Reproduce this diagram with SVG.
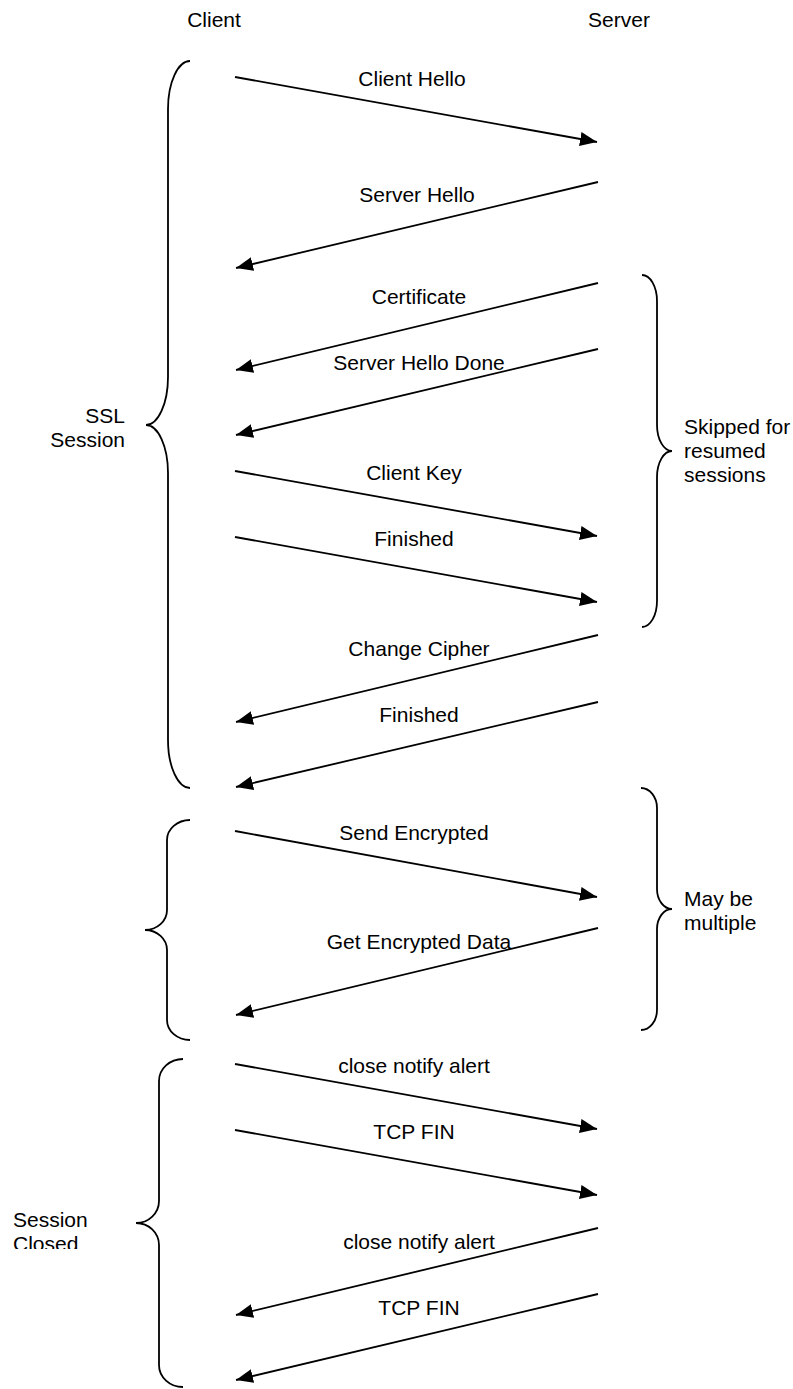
<svg xmlns="http://www.w3.org/2000/svg" width="793" height="1389" viewBox="0 0 793 1389">
  <style>
    text { font-family: "Liberation Sans", Arial, sans-serif; font-size: 21px; fill: #000; }
    .lbl { text-anchor: middle; }
    .msg { stroke: #000; stroke-width: 1.8; fill: none; marker-end: url(#ah); }
    .brace { stroke: #000; stroke-width: 1.8; fill: none; }
  </style>
  <defs>
    <marker id="ah" markerUnits="userSpaceOnUse" markerWidth="18" markerHeight="14" refX="17" refY="7" orient="auto">
      <path d="M0,0 L17,7 L0,14 z" fill="#000"/>
    </marker>
    <clipPath id="clipClosed">
      <rect x="0" y="1190" width="135" height="59"/>
    </clipPath>
  </defs>
  <rect x="0" y="0" width="793" height="1389" fill="#fff"/>

  <g id="client"><text x="214" y="27" class="lbl">Client</text></g>
  <g id="server"><text x="619" y="27" class="lbl">Server</text></g>

  <g id="ssl-session-brace">
    <path class="brace" d="M190,61 A22,48 0 0 0 168,109 L168,377 A22,48 0 0 1 146,425 A22,48 0 0 1 168,473 L168,740 A22,48 0 0 0 190,788"/>
    <text x="125" y="423" text-anchor="end">SSL</text>
    <text x="125" y="447" text-anchor="end">Session</text>
  </g>

  <g id="skipped-brace">
    <path class="brace" d="M642,275 A15,26 0 0 1 657,301 L657,425 A15,26 0 0 0 672,451 A15,26 0 0 0 657,477 L657,601 A15,26 0 0 1 642,627"/>
    <text x="684" y="434">Skipped for</text>
    <text x="684" y="458">resumed</text>
    <text x="684" y="482">sessions</text>
  </g>

  <g id="data-brace">
    <path class="brace" d="M190,820 A23,20 0 0 0 167,840 L167,910 A22,20 0 0 1 145,930 A22,20 0 0 1 167,950 L167,1020 A23,20 0 0 0 190,1040"/>
  </g>

  <g id="multiple-brace">
    <path class="brace" d="M641,788 A16,20 0 0 1 657,808 L657,889 A15,20 0 0 0 672,909 A15,20 0 0 0 657,929 L657,1010 A16,20 0 0 1 641,1030"/>
    <text x="684" y="906">May be</text>
    <text x="684" y="930">multiple</text>
  </g>

  <g id="closed-brace">
    <path class="brace" d="M183,1059 A24,22 0 0 0 159,1081 L159,1201 A23,22 0 0 1 136,1223 A23,22 0 0 1 159,1245 L159,1365 A24,22 0 0 0 183,1387"/>
    <g clip-path="url(#clipClosed)">
      <text x="13" y="1227">Session</text>
      <text x="13" y="1251">Closed</text>
    </g>
  </g>

  <g id="connectors">
    <line class="msg" x1="235" y1="77" x2="597" y2="142"/>
    <line class="msg" x1="598" y1="182" x2="236" y2="268"/>
    <line class="msg" x1="598" y1="283" x2="236" y2="370"/>
    <line class="msg" x1="598" y1="349" x2="236" y2="435"/>
    <line class="msg" x1="235" y1="471" x2="597" y2="536"/>
    <line class="msg" x1="235" y1="537" x2="597" y2="602"/>
    <line class="msg" x1="598" y1="635" x2="236" y2="722"/>
    <line class="msg" x1="598" y1="702" x2="236" y2="787"/>
    <line class="msg" x1="235" y1="831" x2="597" y2="897"/>
    <line class="msg" x1="598" y1="928" x2="236" y2="1015"/>
    <line class="msg" x1="235" y1="1064" x2="597" y2="1129"/>
    <line class="msg" x1="235" y1="1130" x2="597" y2="1195"/>
    <line class="msg" x1="598" y1="1228" x2="236" y2="1315"/>
    <line class="msg" x1="598" y1="1294" x2="236" y2="1380"/>
  </g>

  <g id="labels">
    <text class="lbl" x="412" y="86">Client Hello</text>
    <text class="lbl" x="417" y="202">Server Hello</text>
    <text class="lbl" x="419" y="304">Certificate</text>
    <text class="lbl" x="419" y="370">Server Hello Done</text>
    <text class="lbl" x="414" y="480">Client Key</text>
    <text class="lbl" x="414" y="546">Finished</text>
    <text class="lbl" x="419" y="656">Change Cipher</text>
    <text class="lbl" x="419" y="722">Finished</text>
    <text class="lbl" x="414" y="840">Send Encrypted</text>
    <text class="lbl" x="419" y="949">Get Encrypted Data</text>
    <text class="lbl" x="414" y="1073">close notify alert</text>
    <text class="lbl" x="414" y="1139">TCP FIN</text>
    <text class="lbl" x="419" y="1249">close notify alert</text>
    <text class="lbl" x="419" y="1315">TCP FIN</text>
  </g>
</svg>
